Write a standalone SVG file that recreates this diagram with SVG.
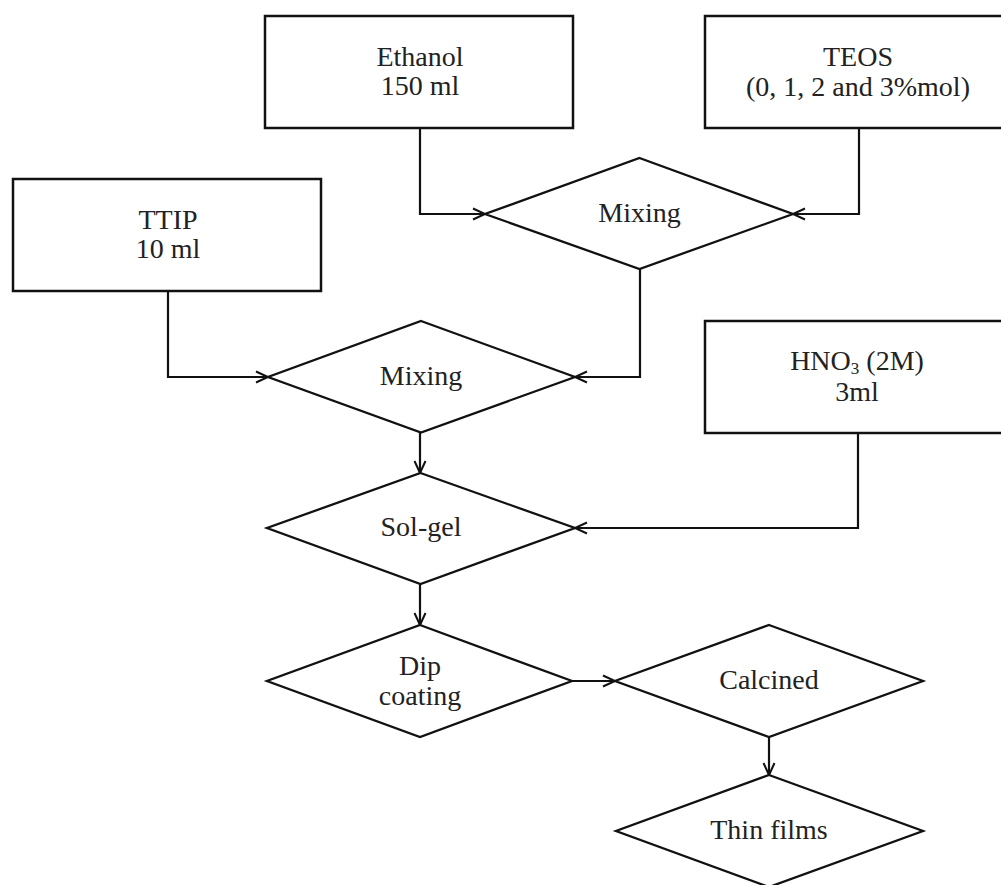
<svg xmlns="http://www.w3.org/2000/svg" width="1001" height="885" viewBox="0 0 1001 885">
<style>
.box{fill:#fff;stroke:#111;stroke-width:2.5}
.dia{fill:#fff;stroke:#111;stroke-width:2.3}
.lbl{font-family:"Liberation Serif","Times New Roman",serif;font-size:28px;fill:#222;text-anchor:middle}
.con{fill:none;stroke:#111;stroke-width:2.2}
</style>
<defs>
<marker id="arr" markerUnits="userSpaceOnUse" markerWidth="16" markerHeight="14" refX="13" refY="7" orient="auto">
<polyline points="1,1.5 13,7 1,12.5" fill="none" stroke="#111" stroke-width="2"/>
</marker>
</defs>
<rect width="1001" height="885" fill="#fff"/>
<g id="connectors">
<polyline class="con" points="420,128 420,214 485,214" marker-end="url(#arr)"/>
<polyline class="con" points="859,128 859,214 793,214" marker-end="url(#arr)"/>
<polyline class="con" points="168,291 168,377 268,377" marker-end="url(#arr)"/>
<polyline class="con" points="640,269 640,377 575,377" marker-end="url(#arr)"/>
<line class="con" x1="420" y1="433" x2="420" y2="473" marker-end="url(#arr)"/>
<polyline class="con" points="858,433 858,528 575,528" marker-end="url(#arr)"/>
<line class="con" x1="420" y1="584" x2="420" y2="625" marker-end="url(#arr)"/>
<line class="con" x1="572" y1="681" x2="615" y2="681" marker-end="url(#arr)"/>
<line class="con" x1="769" y1="737" x2="769" y2="775" marker-end="url(#arr)"/>
</g>
<g id="ethanol">
<rect class="box" x="265" y="16" width="308" height="112"/>
<text class="lbl" x="420" y="66">Ethanol</text>
<text class="lbl" x="420" y="95">150 ml</text>
</g>
<g id="teos">
<rect class="box" x="705" y="16" width="308" height="112"/>
<text class="lbl" x="858" y="66">TEOS</text>
<text class="lbl" x="858" y="96">(0, 1, 2 and 3%mol)</text>
</g>
<g id="ttip">
<rect class="box" x="13" y="179" width="308" height="112"/>
<text class="lbl" x="168" y="229">TTIP</text>
<text class="lbl" x="168" y="258">10 ml</text>
</g>
<g id="hno3">
<rect class="box" x="705" y="321" width="308" height="112"/>
<text class="lbl" x="857" y="370">HNO<tspan font-size="17" baseline-shift="-4">3</tspan> (2M)</text>
<text class="lbl" x="857" y="401">3ml</text>
</g>
<g id="mixing1">
<polygon class="dia" points="639.5,158 793,214 639.5,269 485,214"/>
<text class="lbl" x="639.5" y="222">Mixing</text>
</g>
<g id="mixing2">
<polygon class="dia" points="421,321 575,377 421,432.5 268,377"/>
<text class="lbl" x="421" y="385">Mixing</text>
</g>
<g id="solgel">
<polygon class="dia" points="420.5,473 575,528 420.5,584 267,528"/>
<text class="lbl" x="421" y="536">Sol-gel</text>
</g>
<g id="dipcoating">
<polygon class="dia" points="420,625 572,681 420,737 267,681"/>
<text class="lbl" x="420" y="675">Dip</text>
<text class="lbl" x="420" y="705">coating</text>
</g>
<g id="calcined">
<polygon class="dia" points="769,625 923,681 769,737 615,681"/>
<text class="lbl" x="769" y="689">Calcined</text>
</g>
<g id="thinfilms">
<polygon class="dia" points="769,775 923,831 769,887 616,831"/>
<text class="lbl" x="769" y="839">Thin films</text>
</g>
</svg>
